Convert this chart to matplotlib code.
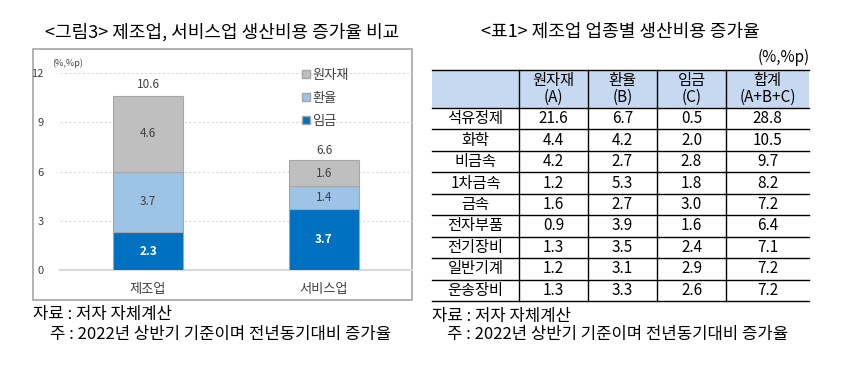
import matplotlib
matplotlib.use("Agg")
import matplotlib.pyplot as plt
from matplotlib.patches import Patch, Rectangle
import numpy as np

plt.rcParams['font.family'] = ['Noto Sans CJK KR', 'DejaVu Sans']

# ---- 데이터: 그림3 ----
sectors = ['제조업', '서비스업']
wage = [2.3, 3.7]        # 임금
fx = [3.7, 1.4]          # 환율
raw = [4.6, 1.6]         # 원자재
totals = [10.6, 6.6]
yticks = [0, 3, 6, 9, 12]

# ---- 데이터: 표1 ----
header = ['', '원자재\n(A)', '환율\n(B)', '임금\n(C)', '합계\n(A+B+C)']
industries = ['석유정제', '화학', '비금속', '1차금속', '금속', '전자부품', '전기장비', '일반기계', '운송장비']
col_a = ['21.6', '4.4', '4.2', '1.2', '1.6', '0.9', '1.3', '1.2', '1.3']
col_b = ['6.7', '4.2', '2.7', '5.3', '2.7', '3.9', '3.5', '3.1', '3.3']
col_c = ['0.5', '2.0', '2.8', '1.8', '3.0', '1.6', '2.4', '2.9', '2.6']
col_sum = ['28.8', '10.5', '9.7', '8.2', '7.2', '6.4', '7.1', '7.2', '7.2']

note_src = '자료 : 저자 자체계산'
note_main = '주 : 2022년 상반기 기준이며 전년동기대비 증가율'

C_WAGE = '#0070C0'
C_FX = '#9DC3E6'
C_RAW = '#BFBFBF'

W, H = 846, 376
fig = plt.figure(figsize=(W / 100, H / 100), dpi=100)

# 픽셀 좌표용 배경 축
bg = fig.add_axes([0, 0, 1, 1])
bg.set_xlim(0, W)
bg.set_ylim(H, 0)
bg.axis('off')

def px_box(x0, y0, x1, y1):
    return [x0 / W, 1 - y1 / H, (x1 - x0) / W, (y1 - y0) / H]

# ---------- 왼쪽: 막대 그래프 ----------
bg.text(222, 32, '<그림3> 제조업, 서비스업 생산비용 증가율 비교', ha='center', va='center', fontsize=13)
bg.add_patch(Rectangle((33, 49), 379, 251, fill=False, edgecolor='#A6A6A6', lw=1.2))

ax = fig.add_axes(px_box(60, 73, 412, 270))
x = np.arange(len(sectors))
bw = 0.4
ec = '#A6A6A6'
ax.bar(x, wage, bw, color=C_WAGE, edgecolor=ec, lw=0.8, zorder=3)
ax.bar(x, fx, bw, bottom=wage, color=C_FX, edgecolor=ec, lw=0.8, zorder=3)
bot3 = np.array(wage) + np.array(fx)
ax.bar(x, raw, bw, bottom=bot3, color=C_RAW, edgecolor=ec, lw=0.8, zorder=3)

for i in range(len(sectors)):
    ax.text(x[i], wage[i] / 2, f'{wage[i]:.1f}', ha='center', va='center',
            color='white', fontweight='bold', fontsize=8.5, zorder=4)
    ax.text(x[i], wage[i] + fx[i] / 2, f'{fx[i]:.1f}', ha='center', va='center',
            color='#404040', fontsize=8.5, zorder=4)
    ax.text(x[i], bot3[i] + raw[i] / 2, f'{raw[i]:.1f}', ha='center', va='center',
            color='#404040', fontsize=8.5, zorder=4)
    ax.text(x[i], totals[i] + 0.7, f'{totals[i]:.1f}', ha='center', va='center',
            color='#404040', fontsize=8.5, zorder=4)

ax.set_xlim(-0.5, 1.5)
ax.set_ylim(0, 12)
ax.set_yticks(yticks)
ax.set_yticklabels([str(t) for t in yticks], fontsize=8, color='#404040')
ax.set_xticks(x)
ax.set_xticklabels(sectors, fontsize=9.5, color='#404040')
ax.tick_params(axis='both', length=0)
ax.tick_params(axis='y', pad=12)
ax.tick_params(axis='x', pad=9)
for s in ['top', 'right', 'left']:
    ax.spines[s].set_visible(False)
ax.spines['bottom'].set_color('#D9D9D9')
ax.spines['bottom'].set_linewidth(1.5)
for t in yticks[1:]:
    ax.axhline(t, color='#D9D9D9', lw=0.8, ls=(0, (2, 2)), zorder=1)
ax.patch.set_alpha(0)

bg.text(52, 63, '(%,%p)', fontsize=6.5, color='#404040', va='center')

handles = [Patch(facecolor=C_RAW, edgecolor=ec), Patch(facecolor=C_FX, edgecolor=ec),
           Patch(facecolor=C_WAGE, edgecolor=ec)]
fig.legend(handles, ['원자재', '환율', '임금'], loc='upper left',
           bbox_to_anchor=(290 / W, 1 - 57 / H), frameon=False, fontsize=9.5,
           handlelength=0.6, handleheight=0.6, handletextpad=0.2, labelspacing=0.75,
           labelcolor='#404040')

bg.text(33, 315, note_src, fontsize=12, va='center')
bg.text(50, 334, note_main, fontsize=12, va='center')

# ---------- 오른쪽: 표 ----------
bg.text(620, 32, '<표1> 제조업 업종별 생산비용 증가율', ha='center', va='center', fontsize=13)
bg.text(810, 57, '(%,%p)', ha='right', va='center', fontsize=11)

col_x = [432, 519, 588, 657, 726, 809]
y_head0, y_head1 = 70, 108
n_rows = len(industries)
row_h = (301 - y_head1) / n_rows
row_y = [y_head1 + row_h * i for i in range(n_rows + 1)]

bg.add_patch(Rectangle((col_x[0], y_head0), col_x[-1] - col_x[0], y_head1 - y_head0,
                       facecolor='#C6D9F1', edgecolor='none'))
for y in [y_head0, y_head1] + row_y[1:]:
    bg.plot([col_x[0], col_x[-1]], [y, y], color='black', lw=1.0)
for cx in col_x[1:-1]:
    bg.plot([cx, cx], [y_head0, row_y[-1]], color='black', lw=1.0)

for j, h in enumerate(header):
    cx = (col_x[j] + col_x[j + 1]) / 2
    bg.text(cx, (y_head0 + y_head1) / 2, h, ha='center', va='center',
            fontsize=11, linespacing=0.95)

columns = [industries, col_a, col_b, col_c, col_sum]
for j, col in enumerate(columns):
    cx = (col_x[j] + col_x[j + 1]) / 2
    for i, v in enumerate(col):
        cy = (row_y[i] + row_y[i + 1]) / 2
        bg.text(cx, cy, v, ha='center', va='center', fontsize=11)

bg.text(432, 316, note_src, fontsize=12, va='center')
bg.text(447, 335, note_main, fontsize=12, va='center')

fig.savefig('out.png', dpi=100)
